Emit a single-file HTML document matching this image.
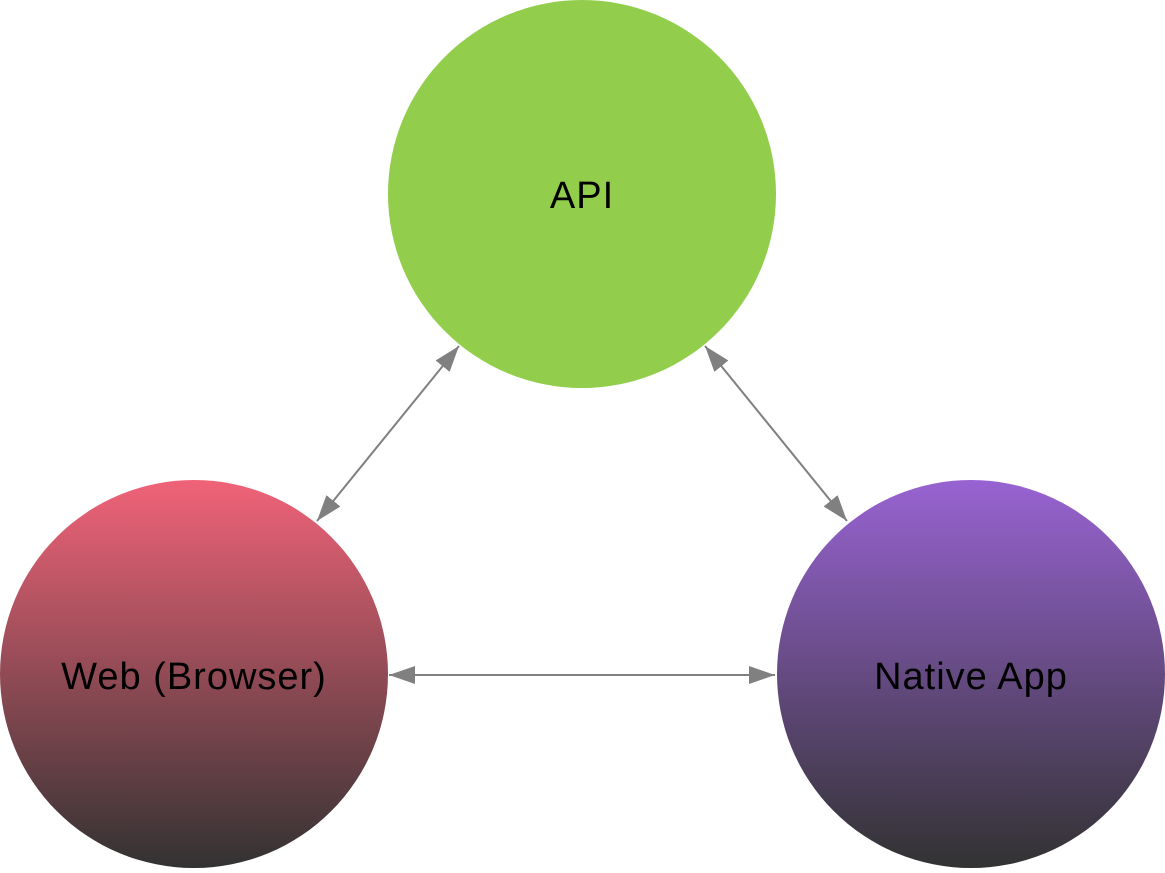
<!DOCTYPE html>
<html><head><style>
html,body{margin:0;padding:0;background:#fff;}
</style></head><body>
<svg width="1165" height="868" viewBox="0 0 1165 868" xmlns="http://www.w3.org/2000/svg">
<defs>
<linearGradient id="gw" x1="0" y1="0" x2="0" y2="1">
<stop offset="0" stop-color="#f06378"/><stop offset="1" stop-color="#323232"/>
</linearGradient>
<linearGradient id="gn" x1="0" y1="0" x2="0" y2="1">
<stop offset="0" stop-color="#9863d2"/><stop offset="1" stop-color="#323232"/>
</linearGradient>
<marker id="ah" markerWidth="26" markerHeight="18" refX="26" refY="9" orient="auto-start-reverse" markerUnits="userSpaceOnUse">
<path d="M0,0 L26,9 L0,18 Z" fill="#808080"/>
</marker>
</defs>
<circle cx="582" cy="194" r="194" fill="#92cd4c"/>
<circle cx="194" cy="674" r="194" fill="url(#gw)"/>
<circle cx="971" cy="674" r="194" fill="url(#gn)"/>
<g stroke="#808080" stroke-width="2" fill="none">
<line x1="317" y1="521" x2="459" y2="346" marker-start="url(#ah)" marker-end="url(#ah)"/>
<line x1="847" y1="521" x2="705" y2="346" marker-start="url(#ah)" marker-end="url(#ah)"/>
<line x1="389" y1="675" x2="775" y2="675" marker-start="url(#ah)" marker-end="url(#ah)"/>
</g>
<g font-family="Liberation Sans, sans-serif" font-size="38" letter-spacing="1" fill="#000" text-anchor="middle">
<text x="582" y="208">API</text>
<text x="194" y="689">Web (Browser)</text>
<text x="971" y="689">Native App</text>
</g>
</svg>
</body></html>
